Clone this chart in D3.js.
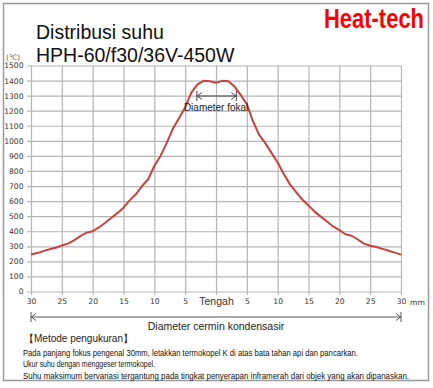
<!DOCTYPE html>
<html>
<head>
<meta charset="utf-8">
<script src="https://cdn.jsdelivr.net/npm/d3@7"></script>
<style>
  body { margin: 0; background: #fff; }
  svg { display: block; font-family: "Liberation Sans", Arial, sans-serif; }
  .grid line { stroke: #b5b5b5; stroke-width: 1.2; }
  .tick text { font-family: "DejaVu Sans", sans-serif; font-size: 7.6px; fill: #333; }
</style>
</head>
<body>
<div id="chart"></div>
<script>
// Temperature distribution, HPH-60/f30/36V-450W

// position across the mirror (mm), centre = 0
var positions = d3.range(-30, 31);
// temperature (deg C) at each mm
var temps = [245, 255, 268, 280, 290, 305, 318, 340, 368, 390,
             400, 425, 455, 488, 520, 556, 605, 645, 700, 745,
             833, 900, 985, 1080, 1150, 1222, 1320, 1375, 1398, 1395,
             1385,
             1398, 1395, 1360, 1305, 1244, 1130, 1040, 985, 920, 856,
             780, 711, 660, 610, 571, 530, 497, 465, 432, 407,
             380, 370, 345, 318, 304, 295, 283, 270, 258, 245];

var yTicks = d3.range(0, 1501, 100);
var xTicks = d3.range(-30, 31, 5);
var focalRange = [-3.1, 3.3];

var svgWidth = 433;
var svgHeight = 388;

var svg = d3.select("#chart")
    .append("svg")
    .attr("width", svgWidth)
    .attr("height", svgHeight);

// outer frame
svg.append("rect")
    .attr("x", 3.5).attr("y", 3.5)
    .attr("width", 425).attr("height", 377)
    .attr("fill", "none")
    .attr("stroke", "#9a9a9a")
    .attr("stroke-width", 1.5);

var x = d3.scaleLinear().domain([-30, 30]).range([31, 401]);
var y = d3.scaleLinear().domain([0, 1500]).range([291.5, 65.5]);

// horizontal grid + y labels
var yAxis = svg.append("g")
    .attr("class", "grid")
    .attr("transform", "translate(27,0)")
    .call(d3.axisLeft(y).tickValues(yTicks).tickSize(-374).tickPadding(3.5)
        .tickFormat(d3.format("d")));
yAxis.select(".domain").remove();

// vertical grid + x labels
var xAxis = svg.append("g")
    .attr("class", "grid")
    .attr("transform", "translate(0,295)")
    .call(d3.axisBottom(x).tickValues(xTicks).tickSize(-229.5).tickPadding(4)
        .tickFormat(d => d === 0 ? "Tengah" : Math.abs(d)));
xAxis.select(".domain").remove();
xAxis.selectAll(".tick text")
    .filter(d => d === 0)
    .style("font-family", "'Liberation Sans', Arial, sans-serif")
    .style("font-size", "10.5px")
    .attr("dy", "0.6em");

svg.append("text")
    .attr("x", 410).attr("y", 305)
    .style("font-family", "'DejaVu Sans', sans-serif")
    .style("font-size", "7.6px").attr("fill", "#333")
    .text("mm");

svg.append("text")
    .attr("x", 6).attr("y", 60)
    .style("font-family", "'DejaVu Sans', sans-serif")
    .style("font-size", "7.5px").attr("fill", "#555")
    .text("(℃)");

// temperature curve
var line = d3.line()
    .x((d, i) => x(positions[i]))
    .y(d => y(d));

svg.append("path")
    .datum(temps)
    .attr("fill", "none")
    .attr("stroke", "#c8413c")
    .attr("stroke-width", 2)
    .attr("stroke-linejoin", "round")
    .attr("d", line);

// dimension line with end ticks and open arrow heads
function dimension(x0, x1, yy, col) {
    var g = svg.append("g").attr("stroke", col).attr("fill", "none").attr("stroke-width", 1);
    g.append("line").attr("x1", x0).attr("x2", x1).attr("y1", yy).attr("y2", yy);
    g.append("line").attr("x1", x0).attr("x2", x0).attr("y1", yy - 5).attr("y2", yy + 5);
    g.append("line").attr("x1", x1).attr("x2", x1).attr("y1", yy - 5).attr("y2", yy + 5);
    g.append("path").attr("d", `M${x0 + 5},${yy - 3.5}L${x0 + 0.5},${yy}L${x0 + 5},${yy + 3.5}`);
    g.append("path").attr("d", `M${x1 - 5},${yy - 3.5}L${x1 - 0.5},${yy}L${x1 - 5},${yy + 3.5}`);
}

dimension(x(-30), x(30), 317, "#555");
svg.append("text")
    .attr("x", x(0)).attr("y", 329.5)
    .attr("text-anchor", "middle")
    .style("font-size", "10.5px").attr("fill", "#222")
    .text("Diameter cermin kondensasir");

dimension(x(focalRange[0]), x(focalRange[1]), 96, "#444");
svg.append("text")
    .attr("x", (x(focalRange[0]) + x(focalRange[1])) / 2 - 0.5).attr("y", 111)
    .attr("text-anchor", "middle")
    .style("font-size", "10px").attr("fill", "#222")
    .text("Diameter fokal");

// titles
svg.append("text")
    .attr("x", 36).attr("y", 38.5)
    .style("font-size", "19.5px").attr("fill", "#111")
    .text("Distribusi suhu");
svg.append("text")
    .attr("x", 36).attr("y", 61.5)
    .style("font-size", "19.5px").attr("fill", "#111")
    .text("HPH-60/f30/36V-450W");

svg.append("text")
    .attr("x", 324).attr("y", 28)
    .style("font-family", "'Liberation Sans Narrow', 'Liberation Sans', sans-serif")
    .style("font-weight", "bold")
    .style("font-size", "27px")
    .attr("textLength", 100)
    .attr("lengthAdjust", "spacingAndGlyphs")
    .attr("fill", "#ff0000")
    .text("Heat-tech");

// measurement notes
svg.append("text")
    .attr("x", 24).attr("y", 342)
    .style("font-size", "10px").attr("fill", "#222")
    .text("【Metode pengukuran】");

var notes = [
    "Pada panjang fokus pengenal 30mm, letakkan termokopel K di atas bata tahan api dan pancarkan.",
    "Ukur suhu dengan menggeser termokopel.",
    "Suhu maksimum bervariasi tergantung pada tingkat penyerapan inframerah dari objek yang akan dipanaskan."
];
var noteWidths = [335, 132, 386];

notes.forEach(function(t, i) {
    svg.append("text")
        .attr("x", 23).attr("y", 355.5 + i * 11.7)
        .style("font-size", "9.5px").attr("fill", "#111")
        .attr("textLength", noteWidths[i])
        .attr("lengthAdjust", "spacingAndGlyphs")
        .text(t);
});
</script>
</body>
</html>
